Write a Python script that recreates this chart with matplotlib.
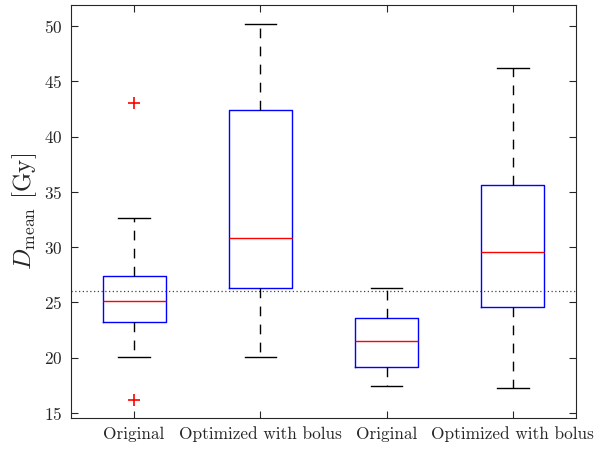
import matplotlib
matplotlib.use("Agg")
import matplotlib.pyplot as plt

plt.rcParams["font.family"] = "serif"
plt.rcParams["font.serif"] = ["cmr10"]
plt.rcParams["mathtext.fontset"] = "cm"
plt.rcParams["axes.formatter.use_mathtext"] = True

# Group labels and five-number summaries (Gy)
labels = ["Original", "Optimized with bolus", "Original", "Optimized with bolus"]
whisker_low = [20.1, 20.1, 17.4, 17.3]
q1 = [23.2, 26.3, 19.2, 24.6]
median = [25.1, 30.8, 21.5, 29.6]
q3 = [27.4, 42.4, 23.6, 35.6]
whisker_high = [32.6, 50.2, 26.3, 46.2]
outliers = [[43.0, 16.2], [], [], []]
threshold = 26.0

stats = []
for i, name in enumerate(labels):
    stats.append({
        "label": name,
        "whislo": whisker_low[i],
        "q1": q1[i],
        "med": median[i],
        "q3": q3[i],
        "whishi": whisker_high[i],
        "fliers": outliers[i],
    })

fig = plt.figure(figsize=(6.02, 4.49), dpi=100)
ax = fig.add_axes([71 / 602, 31 / 449, 505 / 602, 413 / 449])

ax.axhline(threshold, color="#444444", linestyle=(0, (1, 2)), linewidth=0.9, zorder=1)

ax.bxp(
    stats,
    positions=[1, 2, 3, 4],
    widths=0.5,
    capwidths=0.25,
    boxprops=dict(color="#0000ff", linewidth=1.0),
    medianprops=dict(color="#ff0000", linewidth=1.0),
    whiskerprops=dict(color="black", linewidth=1.0, linestyle=(0, (7, 6))),
    capprops=dict(color="black", linewidth=1.0),
    flierprops=dict(marker="+", markeredgecolor="#ff0000", markersize=8, markeredgewidth=1.2),
)

ax.set_xlim(0.5, 4.5)
ax.set_ylim(14.55, 51.9)
ax.set_yticks([15, 20, 25, 30, 35, 40, 45, 50])
ax.set_xticks([1, 2, 3, 4])
ax.set_xticklabels(labels)
ax.set_ylabel(r"$D_{\mathrm{mean}}$ $\mathrm{[Gy]}$", fontsize=18, color="#262626", labelpad=4)

ax.tick_params(direction="in", top=True, right=True, length=5, width=0.8,
               labelsize=12.4, colors="#262626", pad=6)
for spine in ax.spines.values():
    spine.set_color("#262626")
    spine.set_linewidth(0.8)

fig.savefig("out.png", dpi=100)
